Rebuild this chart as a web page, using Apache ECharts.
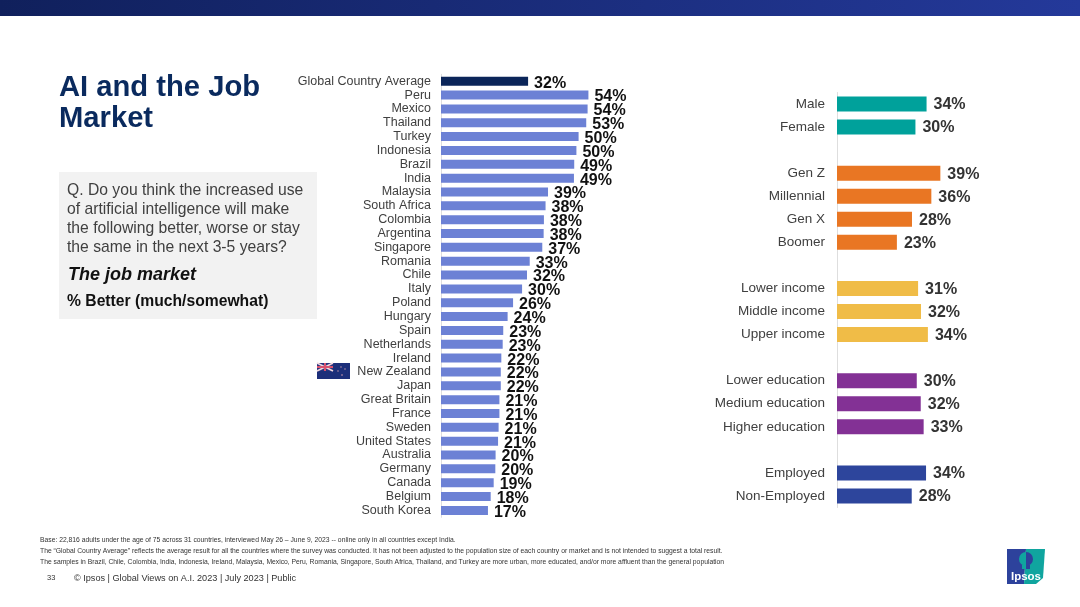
<!DOCTYPE html>
<html>
<head>
<meta charset="utf-8">
<title>AI and the Job Market</title>
<script src="https://cdn.jsdelivr.net/npm/echarts@6/dist/echarts.min.js"></script>
<style>
html, body { margin: 0; padding: 0; background: #fff; }
#chart { width: 1080px; height: 607px; }
</style>
</head>
<body>
<div id="chart"></div>
<script>
// left chart
var countries = ['Global Country Average', 'Peru', 'Mexico', 'Thailand', 'Turkey', 'Indonesia', 'Brazil', 'India',
    'Malaysia', 'South Africa', 'Colombia', 'Argentina', 'Singapore', 'Romania', 'Chile', 'Italy', 'Poland',
    'Hungary', 'Spain', 'Netherlands', 'Ireland', 'New Zealand', 'Japan', 'Great Britain', 'France', 'Sweden',
    'United States', 'Australia', 'Germany', 'Canada', 'Belgium', 'South Korea'];
var countryValues = [31.9, 54.0, 53.7, 53.2, 50.4, 49.6, 48.8, 48.7,
    39.2, 38.3, 37.7, 37.6, 37.1, 32.5, 31.5, 29.7, 26.4,
    24.4, 22.8, 22.6, 22.1, 21.9, 21.9, 21.4, 21.4, 21.1,
    20.9, 20.0, 19.9, 19.3, 18.2, 17.2];

// right chart, one pair of arrays per group
var genderNames = ['Male', 'Female'];
var genderValues = [33.8, 29.6];
var genNames = ['Gen Z', 'Millennial', 'Gen X', 'Boomer'];
var genValues = [39.0, 35.6, 28.3, 22.6];
var incomeNames = ['Lower income', 'Middle income', 'Upper income'];
var incomeValues = [30.6, 31.7, 34.3];
var eduNames = ['Lower education', 'Medium education', 'Higher education'];
var eduValues = [30.1, 31.6, 32.7];
var jobNames = ['Employed', 'Non-Employed'];
var jobValues = [33.6, 28.2];

var groups = [
    { names: genderNames, values: genderValues, color: '#00A19B' },
    { names: genNames, values: genValues, color: '#E97623' },
    { names: incomeNames, values: incomeValues, color: '#F0BC47' },
    { names: eduNames, values: eduValues, color: '#833195' },
    { names: jobNames, values: jobValues, color: '#2D459C' }
];
var rightCats = [];
var rightData = [];
groups.forEach(function (g, i) {
    if (i > 0) {
        rightCats.push(' '.repeat(i));
        rightData.push(null);
    }
    g.names.forEach(function (n, j) {
        rightCats.push(n);
        rightData.push({ value: g.values[j], itemStyle: { color: g.color } });
    });
});

var leftData = countryValues.map(function (v, i) {
    return { value: v, itemStyle: { color: i == 0 ? '#0B2559' : '#6C81D5' } };
});

var FONT = '"Liberation Sans", Arial, sans-serif';
function pct(p) { return Math.round(p.value) + '%'; }

function yAxis(idx, cats, size, margin) {
    return {
        type: 'category', gridIndex: idx, inverse: true, data: cats,
        axisLine: { lineStyle: { color: '#DEDEDE', width: 1 } },
        axisTick: { length: 3, lineStyle: { color: '#DEDEDE' } },
        axisLabel: { interval: 0, margin: margin, padding: [2, 0, 0, 0], fontFamily: FONT, fontSize: size, color: '#404040' }
    };
}
function xAxis(idx) {
    return { type: 'value', gridIndex: idx, min: 0, max: 60, show: false };
}

function text(x, y, str, size, color, extra) {
    var style = { x: x, y: y, text: str, fontFamily: FONT, fontSize: size, fill: color, textVerticalAlign: 'middle' };
    for (var k in (extra || {})) style[k] = extra[k];
    return { type: 'text', silent: true, style: style };
}

var deco = [
    // header band
    { type: 'rect', shape: { x: 0, y: 0, width: 1080, height: 16 },
      style: { fill: new echarts.graphic.LinearGradient(0, 0, 1, 0, [
          { offset: 0, color: '#10205C' }, { offset: 1, color: '#24399A' }]) } },
    // question box
    { type: 'rect', shape: { x: 59, y: 172, width: 258, height: 147 }, style: { fill: '#F2F2F2' } },
    text(59, 87.5, 'AI and the Job', 29.2, '#0A2A5E', { fontWeight: 'bold' }),
    text(59, 118.5, 'Market', 29.2, '#0A2A5E', { fontWeight: 'bold' }),
    text(67, 191, 'Q. Do you think the increased use', 15.7, '#404040'),
    text(67, 210, 'of artificial intelligence will make', 15.7, '#404040'),
    text(67, 229, 'the following better, worse or stay', 15.7, '#404040'),
    text(67, 248, 'the same in the next 3-5 years?', 15.7, '#404040'),
    text(68, 275, 'The job market', 18, '#111', { fontWeight: 'bold', fontStyle: 'italic' }),
    text(67, 302, '% Better (much/somewhat)', 15.7, '#111', { fontWeight: 'bold' }),
    // footnotes
    text(40, 540, 'Base: 22,816 adults under the age of 75 across 31 countries, interviewed May 26 \u2013 June 9, 2023 -- online only in all countries except India.', 6.77, '#333'),
    text(40, 551, 'The \u201CGlobal Country Average\u201D reflects the average result for all the countries where the survey was conducted. It has not been adjusted to the population size of each country or market and is not intended to suggest a total result.', 6.77, '#333'),
    text(40, 562, 'The samples in Brazil, Chile, Colombia, India, Indonesia, Ireland, Malaysia, Mexico, Peru, Romania, Singapore, South Africa, Thailand, and Turkey are more urban, more educated, and/or more affluent than the general population', 6.77, '#333'),
    text(47, 578, '33', 7.5, '#333'),
    text(74, 578, '\u00A9 Ipsos | Global Views on A.I. 2023 | July 2023 | Public', 9.13, '#333'),
    // New Zealand flag
    { type: 'rect', shape: { x: 317, y: 363, width: 33, height: 16 }, style: { fill: '#1C2F7A' } },
    { type: 'rect', shape: { x: 317, y: 363, width: 16, height: 8 }, style: { fill: '#27357F' } },
    { type: 'line', shape: { x1: 317, y1: 363, x2: 333, y2: 371 }, style: { stroke: '#F1D9DF', lineWidth: 1.6 } },
    { type: 'line', shape: { x1: 333, y1: 363, x2: 317, y2: 371 }, style: { stroke: '#F1D9DF', lineWidth: 1.6 } },
    { type: 'rect', shape: { x: 317, y: 366, width: 16, height: 2 }, style: { fill: '#D9526F' } },
    { type: 'rect', shape: { x: 324, y: 363, width: 2, height: 8 }, style: { fill: '#D9526F' } },
    { type: 'circle', shape: { cx: 341, cy: 367, r: 0.7 }, style: { fill: '#D9A0B0' } },
    { type: 'circle', shape: { cx: 345, cy: 369, r: 0.7 }, style: { fill: '#D9A0B0' } },
    { type: 'circle', shape: { cx: 338, cy: 371, r: 0.7 }, style: { fill: '#D9A0B0' } },
    { type: 'circle', shape: { cx: 342, cy: 375, r: 0.8 }, style: { fill: '#D9A0B0' } },
    // Ipsos logo
    { type: 'polygon', shape: { points: [[1007, 549], [1026, 549], [1024, 584], [1007, 584]] }, style: { fill: '#2D429C' } },
    { type: 'polygon', shape: { points: [[1026, 549], [1045, 549], [1043, 578], [1036, 584], [1024, 584]] }, style: { fill: '#10A59F' } },
    { type: 'sector', shape: { cx: 1026, cy: 559, r: 7, startAngle: Math.PI / 2, endAngle: Math.PI * 1.5 }, style: { fill: '#10A59F' } },
    { type: 'sector', shape: { cx: 1026, cy: 559, r: 7, startAngle: -Math.PI / 2, endAngle: Math.PI / 2 }, style: { fill: '#2D429C' } },
    { type: 'rect', shape: { x: 1022, y: 565, width: 4, height: 4 }, style: { fill: '#10A59F' } },
    { type: 'rect', shape: { x: 1026, y: 565, width: 4, height: 4 }, style: { fill: '#2D429C' } },
    text(1026, 576.5, 'Ipsos', 11.5, '#fff', { fontWeight: 'bold', textAlign: 'center' })
];

var chart = echarts.init(document.getElementById('chart'));
chart.setOption({
    animation: false,
    backgroundColor: '#fff',
    grid: [
        { left: 441, top: 74.3, width: 163.8, height: 443 },
        { left: 837, top: 92.5, width: 159, height: 415 }
    ],
    xAxis: [xAxis(0), xAxis(1)],
    yAxis: [yAxis(0, countries, 12.5, 10), yAxis(1, rightCats, 13.5, 12)],
    series: [
        {
            type: 'bar', xAxisIndex: 0, yAxisIndex: 0, barWidth: 9, data: leftData,
            label: { show: true, position: 'right', distance: 6, offset: [0, 2], formatter: pct,
                fontFamily: FONT, fontWeight: 'bold', fontSize: 16, color: '#111' }
        },
        {
            type: 'bar', xAxisIndex: 1, yAxisIndex: 1, barWidth: 15, data: rightData,
            label: { show: true, position: 'right', distance: 7, offset: [0, 1], formatter: pct,
                fontFamily: FONT, fontWeight: 'bold', fontSize: 16, color: '#333' }
        }
    ],
    graphic: deco
});
</script>
</body>
</html>
